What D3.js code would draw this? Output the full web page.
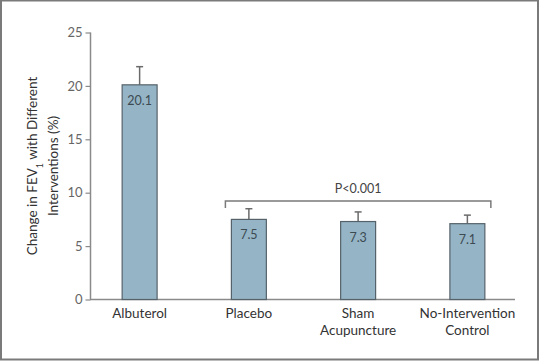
<!DOCTYPE html>
<meta charset="utf-8">
<title>FEV1 change by intervention</title>
<body>
<script src="https://cdn.jsdelivr.net/npm/d3@7"></script>
<style>
html, body {
    margin: 0;
    background: #fff;
}
svg {
    display: block;
    font-family: Lato, "Open Sans", sans-serif;
}
</style>
<script>
var categories = [["Albuterol"], ["Placebo"], ["Sham", "Acupuncture"], ["No-Intervention", "Control"]],
    values = [20.1, 7.5, 7.3, 7.1],
    errorTops = [21.8, 8.5, 8.2, 7.9],
    yTicks = [0, 5, 10, 15, 20, 25];

var width = 540,
    height = 362;

var svg = d3.select("body").append("svg")
    .attr("width", width)
    .attr("height", height);

// outer frame
svg.append("rect")
    .attr("x", 1)
    .attr("y", 0.5)
    .attr("width", 537)
    .attr("height", 359)
    .attr("fill", "none")
    .attr("stroke", "#7a7a7a")
    .attr("stroke-width", 2);

var x = d3.scaleBand()
    .domain(d3.range(categories.length))
    .range([85, 522])
    .paddingInner(0.68)
    .paddingOuter(0.34);

var y = d3.scaleLinear()
    .domain([0, 25])
    .range([299.5, 32.5]);

// y axis
var yAxis = svg.append("g")
    .attr("transform", "translate(90.5,0)")
    .call(d3.axisLeft(y).tickValues(yTicks).tickSize(5).tickPadding(3));

yAxis.select(".domain")
    .attr("d", "M0," + y(25) + "V" + y(0))
    .attr("stroke", "#8a8a8a")
    .attr("stroke-width", 1.5);
yAxis.selectAll(".tick line").attr("stroke", "#8a8a8a").attr("stroke-width", 1.2);
yAxis.selectAll(".tick text")
    .attr("fill", "#666")
    .style("font-size", "13px")
    .style("font-family", "Lato, 'Open Sans', sans-serif");

// x baseline
svg.append("line")
    .attr("x1", 90)
    .attr("x2", 515)
    .attr("y1", y(0))
    .attr("y2", y(0))
    .attr("stroke", "#8a8a8a")
    .attr("stroke-width", 1.5);

// y title
var title = svg.append("text")
    .attr("transform", "translate(32,166)rotate(-90)")
    .attr("text-anchor", "middle")
    .attr("fill", "#333")
    .style("font-size", "13.5px");
var t1 = title.append("tspan").attr("x", 0).attr("dy", "0.35em");
t1.append("tspan").text("Change in FEV");
t1.append("tspan").attr("baseline-shift", "sub").style("font-size", "9px").text("1");
title.append("tspan").attr("dx", 0).text(" with Different");
title.append("tspan").attr("x", 0).attr("dy", 21).text("Interventions (%)");

// error bars
var err = svg.selectAll(".err")
    .data(values)
    .enter().append("g")
    .attr("class", "err")
    .attr("stroke", "#6b6b6b")
    .attr("stroke-width", 1.5);

err.append("line")
    .attr("x1", function(d, i) { return x(i) + x.bandwidth() / 2; })
    .attr("x2", function(d, i) { return x(i) + x.bandwidth() / 2; })
    .attr("y1", function(d) { return y(d); })
    .attr("y2", function(d, i) { return y(errorTops[i]); });

err.append("line")
    .attr("x1", function(d, i) { return x(i) + x.bandwidth() / 2 - 3.5; })
    .attr("x2", function(d, i) { return x(i) + x.bandwidth() / 2 + 3.5; })
    .attr("y1", function(d, i) { return y(errorTops[i]); })
    .attr("y2", function(d, i) { return y(errorTops[i]); });

// bars
svg.selectAll(".bar")
    .data(values)
    .enter().append("rect")
    .attr("class", "bar")
    .attr("x", function(d, i) { return x(i); })
    .attr("y", function(d) { return y(d); })
    .attr("width", x.bandwidth())
    .attr("height", function(d) { return y(0) - y(d); })
    .attr("fill", "#95b5c6")
    .attr("stroke", "#55626a")
    .attr("stroke-width", 1.2);

// value labels
svg.selectAll(".val")
    .data(values)
    .enter().append("text")
    .attr("class", "val")
    .attr("x", function(d, i) { return x(i) + x.bandwidth() / 2; })
    .attr("y", function(d) { return y(d) + 20; })
    .attr("text-anchor", "middle")
    .attr("fill", "#3c4a52")
    .style("font-size", "12.5px")
    .text(function(d) { return d.toFixed(1); });

// category labels
var cat = svg.selectAll(".cat")
    .data(categories)
    .enter().append("text")
    .attr("class", "cat")
    .attr("text-anchor", "middle")
    .attr("fill", "#333")
    .style("font-size", "13.5px");

cat.selectAll("tspan")
    .data(function(d, i) { return d.map(function(s) { return {s: s, i: i}; }); })
    .enter().append("tspan")
    .attr("x", function(d) { return x(d.i) + x.bandwidth() / 2; })
    .attr("y", function(d, j) { return 318 + j * 17; })
    .text(function(d) { return d.s; });

// significance bracket over placebo-to-control
var bx0 = x(1) - 6,
    bx1 = x(3) + x.bandwidth() + 6,
    by = 201;

svg.append("path")
    .attr("d", "M" + [bx0, by + 7] + "V" + by + "H" + bx1 + "V" + (by + 7))
    .attr("fill", "none")
    .attr("stroke", "#7a7a7a")
    .attr("stroke-width", 1.5);

svg.append("text")
    .attr("x", (bx0 + bx1) / 2)
    .attr("y", by - 8)
    .attr("text-anchor", "middle")
    .attr("fill", "#444")
    .style("font-size", "12.5px")
    .text("P<0.001");
</script>
